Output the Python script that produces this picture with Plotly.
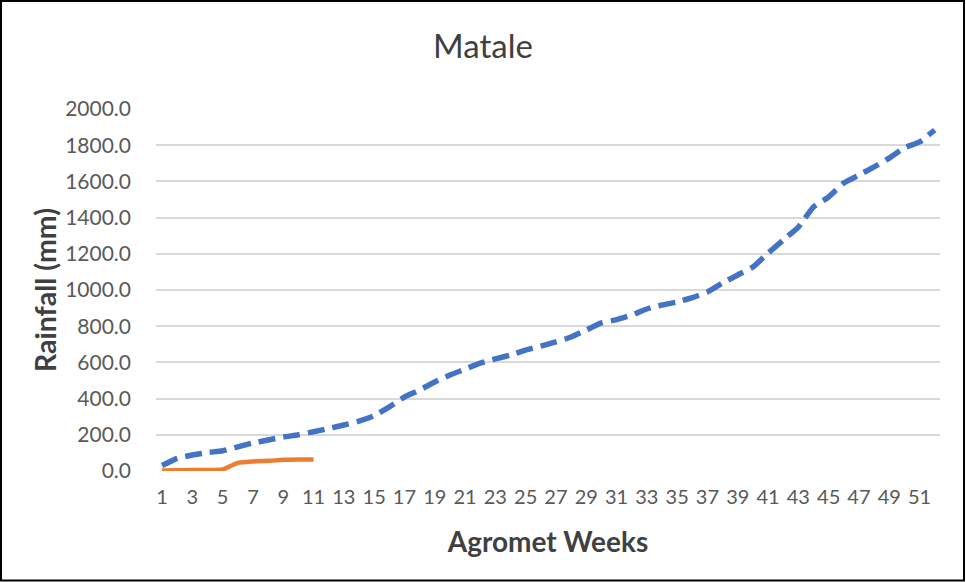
import plotly.graph_objects as go

weeks = list(range(1, 53))
avg_cumulative = [30, 70, 88, 102, 112, 133, 155, 171, 188, 200, 217, 235, 254, 275, 305,
                  354, 409, 447, 492, 530, 563, 596, 619, 641, 668, 690, 713, 740, 779, 818,
                  836, 862, 895, 917, 934, 958, 989, 1039, 1083, 1127, 1204, 1276, 1348, 1459,
                  1514, 1591, 1635, 1680, 1729, 1785, 1818, 1884]
current_weeks = list(range(1, 12))
current_cumulative = [3, 4, 5, 6, 8, 45, 53, 56, 62, 64, 64]

x_ticks = list(range(1, 53, 2))
y_ticks = list(range(0, 2001, 200))
y_tick_text = [f"{v:.1f}" for v in y_ticks]

FONT = "Lato, 'Liberation Sans', sans-serif"

fig = go.Figure()
fig.add_trace(go.Scatter(
    x=weeks, y=avg_cumulative, mode="lines",
    line=dict(color="#4472C4", width=5.5, dash="17px,8px", shape="spline", smoothing=0.5),
    showlegend=False, name="Average"))
fig.add_trace(go.Scatter(
    x=current_weeks, y=current_cumulative, mode="lines",
    line=dict(color="#ED7D31", width=4.5, shape="spline", smoothing=0.5),
    showlegend=False, name="Current"))

L, R, T, B = 156, 26, 109, 111
W, H = 966, 582
pw, ph = W - L - R, H - T - B

fig.update_layout(
    width=W, height=H,
    margin=dict(l=L, r=R, t=T, b=B),
    paper_bgcolor="white", plot_bgcolor="white",
    font=dict(family=FONT, color="#595959"),
    title=dict(text="Matale", x=0.5, xref="container", xanchor="center",
               y=1 - 46 / H, yanchor="middle",
               font=dict(family=FONT, size=33, color="#404040")),
    xaxis=dict(range=[0.6, 52.35], tickmode="array", tickvals=x_ticks,
               ticktext=[str(v) for v in x_ticks],
               showgrid=False, zeroline=False, showline=False, ticks="",
               ticklabelstandoff=12,
               tickfont=dict(size=20, color="#595959"), tickangle=0,
               title=dict(text="<b>Agromet Weeks</b>", standoff=25,
                          font=dict(size=28, color="#404040"))),
    yaxis=dict(range=[0, 2000], tickmode="array", tickvals=y_ticks, ticktext=y_tick_text,
               showgrid=True, gridcolor="#D9D9D9", gridwidth=1.5,
               zeroline=False, showline=False, ticks="", ticklabelstandoff=24,
               tickfont=dict(size=21, color="#595959"),
               title=dict(text="<b>Rainfall (mm)</b>", standoff=0,
                          font=dict(size=28.5, color="#404040"))),
)

fig.add_shape(type="rect", xref="paper", yref="paper",
              x0=-(L - 1) / pw, x1=1 + (R - 2) / pw,
              y0=-(B - 1.5) / ph, y1=1 + (T - 1) / ph,
              line=dict(color="#000000", width=2), fillcolor="rgba(0,0,0,0)", layer="above")

fig.write_html("out.html", config={"displayModeBar": False},
               post_script="document.body.style.margin='0';")
